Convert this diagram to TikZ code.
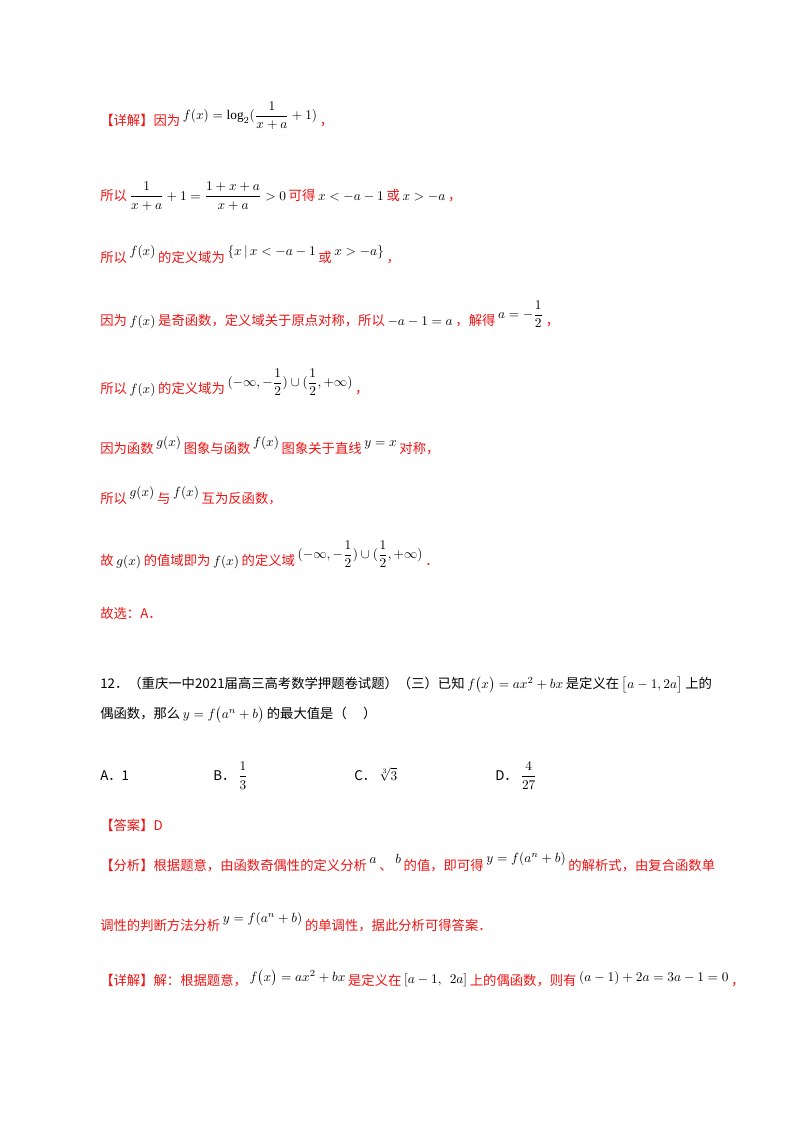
\documentclass[tikz,border=0pt]{standalone}
\usepackage{amsmath}
\usepackage{fontspec}
\setmainfont{Liberation Serif}
\newfontfamily\cjk{Noto Sans CJK SC}
\definecolor{rd}{RGB}{240,20,20}
\newcommand{\M}[1]{\hspace{2pt}{\color{black}$#1$}\hspace{2pt}}
\newcommand{\Up}[2]{\hspace{2pt}\raisebox{#1}{\color{black}$#2$}\hspace{2pt}}
\begin{document}
\begin{tikzpicture}[x=0.75pt,y=-0.75pt,
  t/.style={anchor=base west,inner sep=0pt,font=\cjk\fontsize{10pt}{12pt}\selectfont,text=rd},
  k/.style={t,text=black}]
\useasboundingbox[fill=white] (0,0) rectangle (800,1132);
\node[t] (l1) at (100,125) {【详解】因为\Up{4pt}{f(x)=\log_2(\dfrac{1}{x+a}+1)}，};
\node[t] (l2) at (100,200) {所以\M{\dfrac{1}{x+a}+1=\dfrac{1+x+a}{x+a}>0}可得\M{x<-a-1}或\M{x>-a}，};
\node[t] (l3) at (100,262) {所以\Up{5pt}{f(x)}的定义域为\Up{5pt}{\{x\,|\,x<-a-1}或\Up{5pt}{x>-a\}}，};
\node[t] (l4) at (100,325) {因为\M{f(x)}是奇函数，定义域关于原点对称，所以\M{-a-1=a}，解得\Up{5pt}{a=-\dfrac12}，};
\node[t] (l5) at (100,393) {所以\M{f(x)}的定义域为\Up{5pt}{(-\infty,-\dfrac12)\cup(\dfrac12,+\infty)}，};
\node[t] (l6) at (100,453) {因为函数\Up{5pt}{g(x)}图象与函数\Up{5pt}{f(x)}图象关于直线\Up{5pt}{y=x}对称，};
\node[t] (l7) at (100,503) {所以\Up{5pt}{g(x)}与\Up{5pt}{f(x)}互为反函数，};
\node[t] (l8) at (100,565) {故\M{g(x)}的值域即为\M{f(x)}的定义域\Up{5pt}{(-\infty,-\dfrac12)\cup(\dfrac12,+\infty)}．};
\node[t] (l9) at (100,618) {故选：A．};
\node[k] (l10) at (100,688) {12．（重庆一中2021届高三高考数学押题卷试题）（三）已知\M{f\bigl(x\bigr)=ax^2+bx}是定义在\M{\bigl[a-1,2a\bigr]}上的};
\node[k] (l11) at (100,718) {偶函数，那么\M{y=f\bigl(a^n+b\bigr)}的最大值是（\quad\ ）};
\node[k] (a) at (100,780) {A．1};
\node[k] (b) at (213,780) {B．\M{\dfrac13}};
\node[k] (c) at (354,780) {C．\M{\sqrt[3]{3}}};
\node[k] (d) at (495,780) {D．\M{\dfrac{4}{27}}};
\node[t] (l13) at (100,830) {【答案】D};
\node[t] (l14) at (100,870) {【分析】根据题意，由函数奇偶性的定义分析\Up{5pt}{a}、\Up{5pt}{b}的值，即可得\Up{6pt}{y=f(a^n+b)}的解析式，由复合函数单};
\node[t] (l15) at (100,930) {调性的判断方法分析\Up{6pt}{y=f(a^n+b)}的单调性，据此分析可得答案．};
\node[t] (l16) at (100,985) {【详解】解：根据题意，\Up{3pt}{f\bigl(x\bigr)=ax^2+bx}是定义在\Up{1pt}{[a-1,\ \ 2a]}上的偶函数，则有\Up{3pt}{(a-1)+2a=3a-1=0}，};
\end{tikzpicture}
\end{document}
